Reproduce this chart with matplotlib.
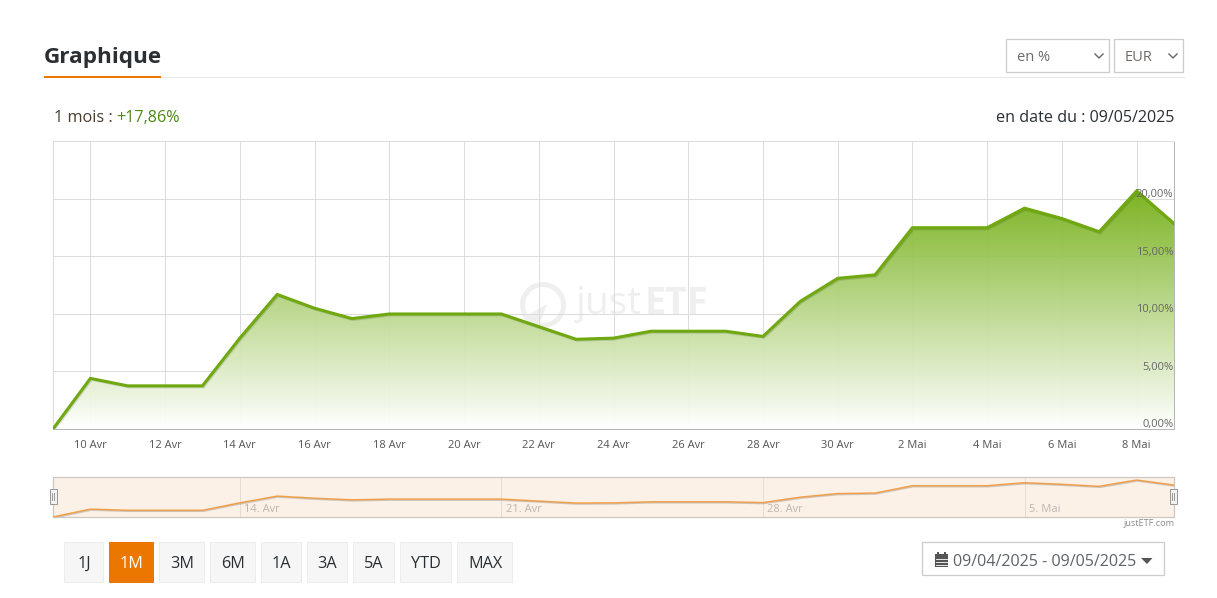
import numpy as np
import pandas as pd
import matplotlib
matplotlib.use("Agg")
import matplotlib.pyplot as plt
import matplotlib.dates as mdates
from matplotlib.patches import Rectangle, Polygon, Wedge
from matplotlib.colors import LinearSegmentedColormap
from matplotlib.ticker import FixedLocator, FixedFormatter
import matplotlib.patheffects as pe

plt.rcParams['font.family'] = ['Open Sans', 'DejaVu Sans']

START = "2025-04-09"
values = [0.0, 4.4, 3.75, 3.75, 3.75, 7.9, 11.7, 10.5, 9.6, 10.0, 10.0, 10.0, 10.0,
          8.9, 7.8, 7.9, 8.5, 8.5, 8.5, 8.05, 11.1, 13.1, 13.4, 17.5, 17.5, 17.5,
          19.2, 18.3, 17.15, 20.7, 17.86]
dates = pd.date_range(START, periods=len(values), freq="D")
xtick_dates = pd.date_range("2025-04-10", "2025-05-08", freq="2D")
months_fr = {4: "Avr", 5: "Mai"}
xtick_labels = [f"{d.day} {months_fr[d.month]}" for d in xtick_dates]
ytick_vals = [0, 5, 10, 15, 20]
ytick_labels = ["0,00%", "5,00%", "10,00%", "15,00%", "20,00%"]
nav_dates = pd.to_datetime(["2025-04-14", "2025-04-21", "2025-04-28", "2025-05-05"])
nav_labels = ["14. Avr", "21. Avr", "28. Avr", "5. Mai"]
range_buttons = ["1J", "1M", "3M", "6M", "1A", "3A", "5A", "YTD", "MAX"]
active_button = "1M"

W, H = 1217, 598
PXL = 0.72  # one pixel, in points
fig = plt.figure(figsize=(W / 100, H / 100), dpi=100, facecolor="white")


def axes_px(x0, y0, x1, y1, **kw):
    return fig.add_axes([x0 / W, 1 - y1 / H, (x1 - x0) / W, (y1 - y0) / H], **kw)


# page layer in pixel coordinates
page = fig.add_axes([0, 0, 1, 1], zorder=0)
page.set_xlim(0, W)
page.set_ylim(H, 0)
page.axis("off")

DARK = "#2a2f33"
page.text(44, 57, "Graphique", fontsize=16.2, fontweight="bold", color=DARK, va="center", ha="left")
page.plot([161, 1184], [76.5, 76.5], color="#e6e7ec", lw=PXL)
page.add_patch(Rectangle((44, 76), 117, 2, color="#ec7700", lw=0))

page.text(54, 118.5, "1 mois : ", fontsize=11.7, color="#4a3b2c", va="center", ha="left")
page.text(116, 118.5, "+17,86%", fontsize=11.6, color="#4c8a10", va="center", ha="left")
page.text(1174, 118.5, "en date du : 09/05/2025", fontsize=11.62, color=DARK, va="center", ha="right")


def select(x0, x1, label):
    page.add_patch(Rectangle((x0, 39), x1 - x0 - 1, 33, fc="white", ec="#cccccc", lw=0.9))
    page.text(x0 + 11, 57.5, label, fontsize=10.5, color="#6f6a66", va="center", ha="left")
    cx = x1 - 11
    page.plot([cx - 4, cx, cx + 4], [54, 58, 54], color="#666666", lw=1.0)


select(1006, 1110, "en %")
select(1114, 1184, "EUR")

# main chart
PX0, PX1, PY0, PY1 = 53, 1174, 141, 429
ax = axes_px(PX0, PY0, PX1, PY1, zorder=2)
ax.set_facecolor("none")
x = mdates.date2num(dates)
ax.set_xlim(x[0], x[-1])
ax.set_ylim(0, 25.04)
for s in ax.spines.values():
    s.set_color("#dddddd")
    s.set_linewidth(PXL)
ax.spines["bottom"].set_color("#b5b5b5")
ax.spines["right"].set_color("#b5b5b5")
ax.xaxis.set_major_locator(FixedLocator(mdates.date2num(xtick_dates)))
ax.xaxis.set_major_formatter(FixedFormatter(xtick_labels))
ax.yaxis.set_major_locator(FixedLocator(ytick_vals))
ax.set_yticklabels([])
ax.tick_params(axis="x", length=0, pad=8, labelsize=8, labelcolor="#555555")
ax.tick_params(axis="y", length=0)
ax.grid(True, color="#dcdcdc", lw=PXL, zorder=0)
ax.set_axisbelow(True)

# watermark
wm = "#efefef"
page.add_patch(Wedge((543, 305), 23, -215, 110, width=5, fc=wm, ec="none"))
page.add_patch(Polygon([[523, 318], [547, 304], [538, 328]], fc=wm, ec="none"))
page.text(575, 304, "just", fontsize=28, color=wm, va="center", ha="left", zorder=1)
page.text(645, 304, "ETF", fontsize=27, fontweight="bold", color=wm, va="center", ha="left", zorder=1)

# gradient area
cmap = LinearSegmentedColormap.from_list("g", [(1, 1, 1, 1), (0.46, 0.69, 0.09, 1)])
top = max(values)
grad = np.linspace(1, 0, 256).reshape(-1, 1)
im = ax.imshow(grad, extent=[x[0], x[-1], 0, top], aspect="auto", cmap=cmap, vmin=0, vmax=1,
               alpha=0.95, zorder=1.5, origin="upper")
poly = Polygon(np.column_stack([np.r_[x, x[-1], x[0]], np.r_[values, 0, 0]]),
               closed=True, transform=ax.transData, fc="none", ec="none")
ax.add_patch(poly)
im.set_clip_path(poly)
ax.set_xlim(x[0], x[-1])
ax.set_ylim(0, 25.04)

ax.plot(x, values, color="#6fa80f", lw=2.2, zorder=3, solid_joinstyle="miter",
        path_effects=[pe.SimpleLineShadow(offset=(0.7, -0.7), shadow_color="#000000", alpha=0.12),
                      pe.Normal()])

for v, lab in zip(ytick_vals, ytick_labels):
    ax.annotate(lab, (1, v), xycoords=("axes fraction", "data"), xytext=(-0.5, 3.0), textcoords="offset points",
                ha="right", va="center", fontsize=8, color="#666666", zorder=4, annotation_clip=False)

# navigator
nav = axes_px(53, 477, 1174, 517, zorder=2)
nav.set_facecolor("#fbf1e7")
nav.set_xlim(x[0], x[-1])
nav.set_ylim(0, 22.4)
for s in nav.spines.values():
    s.set_color("#cfc8c2")
    s.set_linewidth(0.9)
nav.set_yticks([])
nav.set_xticks(mdates.date2num(nav_dates))
nav.set_xticklabels([])
nav.tick_params(axis="x", length=0)
nav.grid(True, axis="x", color="#e6dcd2", lw=PXL)
nav.set_axisbelow(True)
nav.plot(x, values, color="#f0a04b", lw=1.1, zorder=3,
         path_effects=[pe.SimpleLineShadow(offset=(0.5, -0.7), shadow_color="#000000", alpha=0.18), pe.Normal()])
for d, lab in zip(mdates.date2num(nav_dates), nav_labels):
    nav.annotate(lab, (d, 0), xytext=(3, 5.5), textcoords="offset points", fontsize=8,
                 color="#bdb7b2", ha="left", va="center")

# handles drawn above everything
over = fig.add_axes([0, 0, 1, 1], zorder=5)
over.set_xlim(0, W)
over.set_ylim(H, 0)
over.axis("off")
for hx in (53.5, 1173.5):
    over.add_patch(Rectangle((hx - 4, 489), 7, 15, fc="#f2f2f2", ec="#999999", lw=PXL))
    over.plot([hx - 1.5, hx - 1.5], [493, 500], color="#999999", lw=.7)
    over.plot([hx + .5, hx + .5], [493, 500], color="#999999", lw=.7)

over.text(1174.5, 524, "justETF.com", fontsize=6.6, color="#8c8c8c", ha="right", va="center")

# range buttons
btn_x = [(64, 104), (109, 154), (159, 205), (210, 256), (261, 302), (307, 348), (353, 395), (400, 452), (457, 513)]
for (b0, b1), lab in zip(btn_x, range_buttons):
    on = lab == active_button
    over.add_patch(Rectangle((b0, 542), b1 - b0 - 1, 40, fc="#ec7700" if on else "#f6f6f6",
                             ec="#ec7700" if on else "#ececec", lw=PXL))
    over.text((b0 + b1) / 2, 564, lab, fontsize=11.7, color="white" if on else DARK, ha="center", va="center")

# date range picker
over.add_patch(Rectangle((922, 542), 242, 33, fc="white", ec="#cccccc", lw=0.9))
over.add_patch(Rectangle((935, 554), 13, 13, fc="#555555", ec="none"))
over.add_patch(Rectangle((937, 552), 2, 3, fc="#555555", ec="none"))
over.add_patch(Rectangle((944, 552), 2, 3, fc="#555555", ec="none"))
for yy in (558.5, 561.5, 564.5):
    over.plot([936, 947], [yy, yy], color="white", lw=.6)
over.text(953, 561.5, "09/04/2025 - 09/05/2025", fontsize=11.65, color="#5e6468", ha="left", va="center")
over.add_patch(Polygon([[1141, 558], [1152.5, 558], [1147, 564]], fc="#555555", ec="none"))

fig.savefig("out.png", dpi=100, facecolor="white")
